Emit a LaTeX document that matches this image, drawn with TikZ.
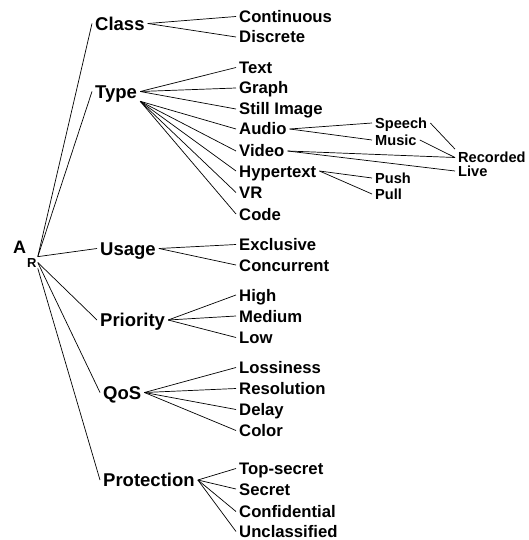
\documentclass[tikz,border=0pt]{standalone}
\usepackage{fontspec}
\setmainfont{Liberation Sans}
\usetikzlibrary{arrows}
\begin{document}
\begin{tikzpicture}[x=1pt,y=-1pt,
  lvlone/.style={anchor=west,inner sep=3pt,font=\fontsize{18.5}{20}\selectfont\bfseries,text height=13.2pt,text depth=0pt},
  lvltwo/.style={anchor=west,inner sep=3pt,font=\fontsize{16.7}{18}\selectfont\bfseries,text height=12pt,text depth=0pt},
  lvlthree/.style={anchor=west,inner sep=3pt,font=\fontsize{14.6}{16}\selectfont\bfseries,text height=10.4pt,text depth=0pt},
  every edge/.style={draw,line width=0.7pt}]
\useasboundingbox (0,0) rectangle (529,540);
% root
\node (a) [anchor=west,inner sep=0pt,font=\fontsize{18}{19}\selectfont\bfseries,text height=12.8pt,text depth=0pt] at (13,247.5) {A};
\node (r) [anchor=west,inner sep=1pt,font=\fontsize{13}{14}\selectfont\bfseries,text height=9.3pt,text depth=0pt] at (26,262.5) {R};
% first level
\node (class) [lvlone] at (92,23.5) {Class};
\node (type) [lvlone] at (92,91.5) {Type};
\node (usage) [lvlone] at (97,248.5) {Usage};
\node (prio) [lvlone] at (97,320) {Priority};
\node (qos) [lvlone] at (100,392.5) {QoS};
\node (prot) [lvlone] at (100,480) {Protection};
% second level
\node (cont) [lvltwo] at (236,16.5) {Continuous};
\node (disc) [lvltwo] at (236,37) {Discrete};
\node (text) [lvltwo] at (236,67.5) {Text};
\node (graph) [lvltwo] at (236,88) {Graph};
\node (still) [lvltwo] at (236,109) {Still Image};
\node (audio) [lvltwo] at (236,129) {Audio};
\node (video) [lvltwo] at (236,151) {Video};
\node (hyper) [lvltwo] at (236,171) {Hypertext};
\node (vr) [lvltwo] at (236,192.5) {VR};
\node (code) [lvltwo] at (236,214) {Code};
\node (excl) [lvltwo] at (236,244.5) {Exclusive};
\node (conc) [lvltwo] at (236,265) {Concurrent};
\node (high) [lvltwo] at (236,295) {High};
\node (med) [lvltwo] at (236,316) {Medium};
\node (low) [lvltwo] at (236,337.5) {Low};
\node (loss) [lvltwo] at (236,367.5) {Lossiness};
\node (res) [lvltwo] at (236,388.5) {Resolution};
\node (delay) [lvltwo] at (236,409.5) {Delay};
\node (color) [lvltwo] at (236,430.5) {Color};
\node (topsec) [lvltwo] at (236,468.5) {Top-secret};
\node (secret) [lvltwo] at (236,489) {Secret};
\node (conf) [lvltwo] at (236,511.5) {Confidential};
\node (uncl) [lvltwo] at (236,531.5) {Unclassified};
% third level
\node (speech) [lvlthree] at (372,123) {Speech};
\node (music) [lvlthree] at (372,140) {Music};
\node (push) [lvlthree] at (372,178) {Push};
\node (pull) [lvlthree] at (372,194) {Pull};
\node (rec) [lvlthree] at (455,157.5) {Recorded};
\node (live) [lvlthree] at (455,171) {Live};
%
\path (r.north east) edge (class.west) edge (type.west) edge (usage.west);
\path (r.east) edge (prio.west) edge (qos.west);
\path (r.south east) edge (prot.west);
\path (class.east) edge (cont.west) edge (disc.west);
\path (type.east) edge (text.west) edge (graph.west) edge (still.west);
\path (type.south east) edge (audio.west) edge (video.west) edge (hyper.west) edge (vr.west) edge (code.west);
\path (usage.east) edge (excl.west) edge (conc.west);
\path (prio.east) edge (high.west) edge (med.west) edge (low.west);
\path (qos.east) edge (loss.west) edge (res.west) edge (delay.west) edge (color.west);
\path (prot.east) edge (topsec.west) edge (secret.west) edge (conf.west) edge (uncl.west);
\path (audio.east) edge (speech.west) edge (music.west);
\path (video.east) edge (rec.west) edge (live.west);
\path (hyper.east) edge (push.west) edge (pull.west);
\path (speech.east) edge (rec.north west);
\path (music.east) edge (rec.west);
\end{tikzpicture}
\end{document}
